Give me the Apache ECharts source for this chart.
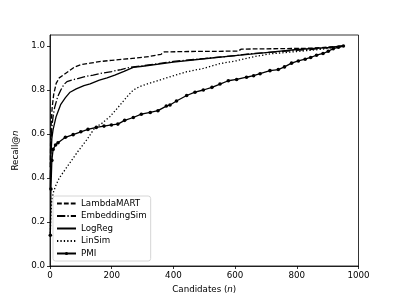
<!DOCTYPE html>
<html>
<head>
<meta charset="utf-8">
<script src="https://cdn.jsdelivr.net/npm/echarts@6/dist/echarts.min.js"></script>
<style>html,body{margin:0;padding:0;background:#fff;}#c{width:399px;height:299px;}</style>
</head>
<body>
<div id="c"></div>
<script>
var seriesNames = ['LambdaMART', 'EmbeddingSim', 'LogReg', 'LinSim', 'PMI'];
var xTicks = [0, 200, 400, 600, 800, 1000];
var yTicks = [0, 0.2, 0.4, 0.6, 0.8, 1.0];

var lambdaMART = [[1,0.45],[2,0.56],[4,0.65],[7,0.72],[12,0.78],[20,0.83],[30,0.855],[45,0.87],[60,0.885],[80,0.905],[100,0.915],[130,0.922],[160,0.929],[200,0.935],[240,0.94],[280,0.946],[320,0.952],[360,0.962],[370,0.973],[450,0.975],[550,0.976],[610,0.977],[620,0.986],[750,0.988],[850,0.99],[900,0.995],[950,1.0]];
var embeddingSim = [[1,0.4],[3,0.55],[6,0.63],[10,0.68],[15,0.72],[25,0.77],[35,0.8],[45,0.825],[55,0.838],[70,0.845],[90,0.852],[110,0.86],[140,0.868],[170,0.877],[200,0.884],[230,0.893],[260,0.903],[300,0.91],[400,0.93],[500,0.943],[600,0.956],[650,0.965],[750,0.975],[850,0.985],[950,1.0]];
var logReg = [[1,0.35],[3,0.5],[6,0.58],[10,0.62],[20,0.68],[35,0.735],[50,0.765],[65,0.79],[85,0.805],[110,0.82],[130,0.828],[160,0.845],[185,0.855],[210,0.868],[240,0.885],[270,0.903],[300,0.908],[400,0.927],[500,0.942],[600,0.956],[700,0.97],[800,0.984],[900,0.993],[950,1.0]];
var linSim = [[1,0.15],[3,0.24],[6,0.3],[12,0.34],[20,0.37],[30,0.4],[45,0.43],[65,0.47],[90,0.52],[120,0.575],[146,0.63],[165,0.645],[195,0.68],[220,0.72],[250,0.77],[270,0.8],[290,0.815],[320,0.83],[355,0.845],[389,0.86],[443,0.883],[497,0.898],[551,0.92],[605,0.933],[659,0.951],[713,0.964],[800,0.975],[880,0.985],[950,1.0]];
var pmi = [[1,0.14],[3,0.35],[6,0.48],[10,0.53],[18,0.55],[26,0.56],[50,0.585],[75,0.597],[100,0.61],[123,0.621],[150,0.63],[175,0.636],[199,0.641],[220,0.645],[242,0.662],[270,0.675],[296,0.69],[325,0.698],[350,0.706],[377,0.727],[389,0.732],[410,0.75],[443,0.775],[470,0.79],[497,0.8],[525,0.812],[551,0.827],[578,0.842],[605,0.848],[637,0.858],[660,0.865],[681,0.874],[713,0.888],[740,0.893],[760,0.905],[783,0.922],[805,0.932],[827,0.94],[845,0.948],[864,0.958],[885,0.966],[902,0.976],[918,0.988],[935,0.994],[951,1.0]];

var font = 'DejaVu Sans';
var fs = 8.7;
var lw = 1.3;

function lineSeries(name, data, dash) {
  return {
    name: name, type: 'line', data: data, showSymbol: false, symbol: 'circle',
    lineStyle: { color: '#000', width: lw, type: dash },
    itemStyle: { color: '#000' },
    animation: false, z: 3
  };
}

var legendData = seriesNames.map(function (n) {
  if (n === 'PMI') return { name: n, itemStyle: { color: '#000', borderWidth: 0 } };
  return { name: n, itemStyle: { color: 'rgba(0,0,0,0)', borderColor: 'rgba(0,0,0,0)', borderWidth: 0 } };
});

var chart = echarts.init(document.getElementById('c'), null, { renderer: 'canvas' });
chart.setOption({
  backgroundColor: '#fff',
  animation: false,
  grid: { left: 50, right: 40.5, top: 35, bottom: 33, show: true, borderColor: '#000', borderWidth: 0.8, backgroundColor: 'transparent' },
  legend: {
    orient: 'vertical', left: 53, top: 196,
    data: legendData,
    itemWidth: 19, itemHeight: 4, itemGap: 3.5,
    padding: [3, 4, 3, 3],
    borderColor: '#cccccc', borderWidth: 0.8, borderRadius: 2.5,
    backgroundColor: 'rgba(255,255,255,0.8)',
    textStyle: { fontFamily: font, fontSize: fs, color: '#000', padding: [0, 0, 0, 0] }
  },
  xAxis: {
    type: 'value', min: 0, max: 1000, interval: 200,
    name: '{a|Candidates (}{i|n}{a|)}', nameLocation: 'middle', nameGap: 15,
    nameTextStyle: { rich: { a: { fontFamily: font, fontSize: fs, color: '#000' }, i: { fontFamily: font, fontSize: fs, fontStyle: 'italic', color: '#000' } } },
    axisLine: { show: true, lineStyle: { color: '#000', width: 0.8 } },
    axisTick: { show: true, length: 3, lineStyle: { color: '#000', width: 0.8 } },
    axisLabel: { fontFamily: font, fontSize: fs, color: '#000', margin: 5, customValues: xTicks, formatter: function (v) { return String(v); } },
    splitLine: { show: false }
  },
  yAxis: {
    type: 'value', min: 0, max: 1.05,
    name: '{a|Recall@}{i|n}', nameLocation: 'middle', nameGap: 29, nameRotate: 90,
    nameTextStyle: { rich: { a: { fontFamily: font, fontSize: fs, color: '#000' }, i: { fontFamily: font, fontSize: fs, fontStyle: 'italic', color: '#000' } } },
    axisLine: { show: true, lineStyle: { color: '#000', width: 0.8 } },
    axisTick: { show: true, length: 3, lineStyle: { color: '#000', width: 0.8 }, customValues: yTicks },
    axisLabel: { fontFamily: font, fontSize: fs, color: '#000', margin: 5, customValues: yTicks, formatter: function (v) { return v.toFixed(1); } },
    splitLine: { show: false }
  },
  series: [
    lineSeries('LambdaMART', lambdaMART, [4.8, 2.1]),
    lineSeries('EmbeddingSim', embeddingSim, [8.3, 2.1, 1.3, 2.1]),
    lineSeries('LogReg', logReg, 'solid'),
    lineSeries('LinSim', linSim, [1.3, 2.1]),
    {
      name: 'PMI', type: 'line', data: pmi, showSymbol: true, symbol: 'circle', symbolSize: 3.6,
      lineStyle: { color: '#000', width: lw, type: 'solid' },
      itemStyle: { color: '#000', borderWidth: 0 },
      animation: false, z: 4
    }
  ]
});
</script>
</body>
</html>
